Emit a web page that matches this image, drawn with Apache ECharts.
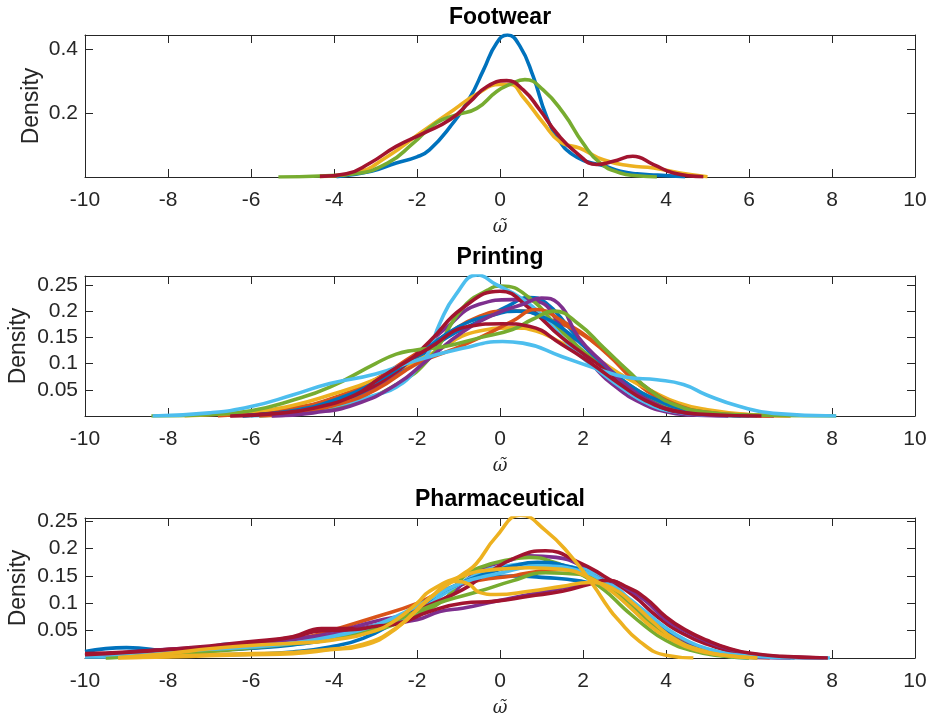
<!DOCTYPE html>
<html>
<head>
<meta charset="utf-8">
<script src="https://cdn.jsdelivr.net/npm/echarts@6/dist/echarts.min.js"></script>
<style>
html,body{margin:0;padding:0;background:#fff;}
#chart{width:931px;height:717px;}
</style>
</head>
<body>
<div id="chart"></div>
<script>
// ---------- data (x = omega-tilde, y = density) ----------
const panelTitles = ['Footwear', 'Printing', 'Pharmaceutical'];
const xTickMin = -10, xTickMax = 10, xTickStep = 2;
const yMaxes = [0.445, 0.267, 0.256];
const yTickSteps = [0.2, 0.05, 0.05];

// Footwear
const fwBlue = [[-3.94,0.001],[-3.1,0.018],[-2.5,0.044],[-2.0,0.063],[-1.7,0.085],[-1.2,0.158],[-0.72,0.25],[-0.4,0.335],[-0.08,0.42],[0.18,0.445],[0.48,0.41],[0.8,0.315],[1.12,0.19],[1.45,0.11],[1.75,0.07],[2.1,0.048],[2.5,0.035],[2.9,0.018],[3.3,0.01],[3.8,0.006],[4.46,0.001]];
const fwYellow = [[-4.34,0.002],[-3.5,0.0125],[-2.7,0.065],[-1.93,0.137],[-1.12,0.21],[-0.56,0.26],[0,0.29],[0.24,0.29],[0.56,0.25],[1.04,0.17],[1.45,0.11],[1.93,0.09],[2.49,0.054],[3.13,0.035],[3.7,0.028],[4.34,0.0125],[5.0,0.001]];
const fwGreen = [[-5.34,0.0],[-4.34,0.003],[-3.5,0.01],[-2.7,0.044],[-2.09,0.106],[-1.53,0.17],[-1.04,0.195],[-0.56,0.215],[-0.08,0.268],[0.24,0.29],[0.6,0.305],[1.04,0.273],[1.53,0.2],[2.0,0.106],[2.41,0.044],[2.9,0.0125],[3.3,0.004],[3.78,0.0]];
const fwRed = [[-4.34,0.002],[-3.7,0.01],[-3.13,0.044],[-2.5,0.096],[-1.85,0.137],[-1.2,0.18],[-0.72,0.236],[-0.32,0.283],[0.16,0.302],[0.56,0.273],[0.96,0.21],[1.37,0.137],[1.85,0.075],[2.33,0.039],[2.73,0.049],[3.2,0.065],[3.7,0.039],[4.18,0.0125],[4.9,0.001]];

// Printing
const prBlue1 = [[-6.2,0.0],[-5,0.008],[-4,0.025],[-3,0.055],[-2.1,0.104],[-1.3,0.149],[-0.5,0.181],[0.2,0.21],[0.7,0.226],[1.1,0.216],[1.67,0.168],[2.3,0.11],[3,0.06],[3.6,0.03],[4.2,0.015],[5,0.005],[5.8,0.0]];
const prOrange1 = [[-6.8,0.0],[-6,0.006],[-5,0.015],[-4,0.035],[-3,0.07],[-2.1,0.115],[-1.3,0.155],[-0.5,0.19],[0.2,0.2],[0.55,0.2],[1.1,0.187],[1.9,0.16],[2.6,0.117],[3.2,0.07],[3.8,0.035],[4.5,0.015],[5.5,0.004],[7,0.0]];
const prYellow1 = [[-7.6,0.0],[-6,0.008],[-5,0.02],[-4.1,0.04],[-3,0.07],[-1.7,0.117],[-0.5,0.162],[0.3,0.168],[0.87,0.162],[1.5,0.139],[2.3,0.11],[3,0.075],[3.6,0.05],[4.3,0.025],[5,0.012],[6,0.003],[7,0.0]];
const prPurple1 = [[-5.5,0.0],[-4.5,0.008],[-3.5,0.03],[-2.8,0.065],[-2.1,0.11],[-1.3,0.168],[-0.5,0.213],[0.3,0.222],[0.87,0.219],[1.5,0.168],[2.2,0.1],[2.8,0.055],[3.4,0.025],[4,0.008],[4.6,0.002],[5.5,0.0]];
const prGreen1 = [[-5.8,0.0],[-4.5,0.008],[-3.5,0.025],[-2.5,0.06],[-1.7,0.11],[-0.9,0.206],[-0.3,0.24],[0.02,0.248],[0.7,0.226],[1.5,0.16],[2.3,0.104],[2.6,0.088],[3.2,0.055],[3.8,0.028],[4.5,0.01],[5.3,0.002],[6,0.0]];
const prLightBlue1 = [[-6,0.0],[-5,0.005],[-4.1,0.017],[-3,0.04],[-2.5,0.055],[-2,0.09],[-1.7,0.125],[-1.46,0.175],[-1.06,0.232],[-0.54,0.269],[-0.1,0.251],[0.5,0.225],[1.1,0.185],[1.77,0.127],[2.4,0.085],[3,0.05],[3.6,0.022],[4.2,0.008],[5,0.002],[5.8,0.0]];
const prRed1 = [[-6.5,0.0],[-5.5,0.005],[-4.5,0.015],[-3.5,0.04],[-2.5,0.085],[-1.7,0.142],[-0.9,0.206],[0,0.238],[0.7,0.206],[1.5,0.149],[2.5,0.091],[3.2,0.05],[3.8,0.02],[4.5,0.006],[5.5,0.002],[6.6,0.0]];
const prBlue2 = [[-6.2,0.0],[-5,0.01],[-4,0.03],[-3,0.065],[-2,0.115],[-1,0.17],[-0.1,0.194],[0.4,0.2],[1,0.19],[1.7,0.155],[2.4,0.105],[3.1,0.06],[3.8,0.03],[4.5,0.012],[5.3,0.003],[6.2,0.0]];
const prOrange2 = [[-5.8,0.0],[-5,0.005],[-4,0.02],[-3,0.05],[-2,0.1],[-1.2,0.125],[-0.5,0.149],[0.3,0.181],[0.87,0.203],[1.5,0.181],[2.3,0.139],[3,0.09],[3.6,0.05],[4.3,0.02],[5,0.007],[6,0.001],[6.5,0.0]];
const prPurple2 = [[-5.5,0.0],[-4.5,0.006],[-3.5,0.022],[-2.5,0.06],[-1.7,0.11],[-0.9,0.16],[-0.1,0.195],[0.55,0.213],[1.0,0.225],[1.4,0.215],[1.9,0.149],[2.5,0.1],[3.1,0.055],[3.7,0.025],[4.3,0.008],[5,0.002],[5.5,0.0]];
const prGreen2 = [[-8.4,0.0],[-7,0.003],[-6,0.01],[-5,0.03],[-4.1,0.055],[-3,0.1],[-2.5,0.118],[-2.1,0.125],[-1.3,0.133],[-0.5,0.149],[0.3,0.165],[0.8,0.185],[1.3,0.2],[1.9,0.175],[2.5,0.13],[3.1,0.085],[3.6,0.05],[4.2,0.022],[5,0.007],[6,0.002],[8.1,0.0]];
const prLightBlue2 = [[-8.37,0.0],[-7,0.006],[-6,0.018],[-5,0.04],[-4.1,0.062],[-3,0.08],[-2.1,0.104],[-0.9,0.129],[0.06,0.142],[0.55,0.139],[1.5,0.113],[2.3,0.091],[3.05,0.074],[3.78,0.069],[4.42,0.06],[4.98,0.04],[5.78,0.018],[6.59,0.005],[8.1,0.0]];
const prRed2 = [[-6.5,0.0],[-5.5,0.004],[-4.5,0.015],[-3.5,0.04],[-2.9,0.072],[-1.7,0.13],[-0.74,0.171],[0.06,0.176],[0.7,0.171],[1.5,0.136],[2.2,0.1],[2.9,0.06],[3.5,0.03],[4.2,0.01],[5,0.003],[6.3,0.0]];

// Pharmaceutical
const phBlue1 = [[-10,0.012],[-9,0.019],[-8,0.012],[-7,0.006],[-6,0.007],[-5,0.011],[-4.1,0.02],[-3.3,0.036],[-2.5,0.067],[-1.7,0.104],[-0.9,0.135],[-0.5,0.147],[0.3,0.15],[1.1,0.147],[1.9,0.141],[2.5,0.13],[3,0.11],[3.5,0.08],[4,0.05],[4.5,0.028],[5,0.014],[5.6,0.006],[6.3,0.002],[7.1,0.0]];
const phOrange = [[-10,0.006],[-9,0.008],[-8,0.01],[-7,0.014],[-6,0.02],[-5,0.032],[-4.3,0.045],[-3,0.075],[-2,0.1],[-1.3,0.125],[-0.5,0.142],[0.3,0.15],[0.7,0.156],[1.5,0.162],[2.1,0.155],[2.6,0.135],[3.1,0.1],[3.6,0.065],[4.1,0.04],[4.7,0.02],[5.3,0.008],[6,0.002],[6.5,0.0]];
const phPurple1 = [[-10,0.005],[-9,0.01],[-8,0.016],[-7,0.02],[-6,0.028],[-5,0.036],[-4.3,0.042],[-3,0.067],[-2,0.085],[-1.3,0.11],[-0.5,0.16],[0.3,0.18],[0.7,0.187],[1.35,0.184],[1.99,0.168],[2.5,0.145],[3,0.11],[3.5,0.075],[4,0.045],[4.6,0.022],[5.3,0.008],[6,0.002],[7,0.0]];
const phGreen1 = [[-9.5,0.0],[-8,0.006],[-7,0.012],[-6,0.018],[-5,0.025],[-4,0.035],[-3,0.05],[-2,0.08],[-1.3,0.11],[-0.9,0.147],[-0.5,0.165],[0.3,0.181],[0.7,0.184],[1.3,0.175],[1.9,0.155],[2.5,0.125],[3,0.09],[3.5,0.058],[4,0.032],[4.6,0.014],[5.3,0.004],[6,0.0]];
const phLightBlue1 = [[-10,0.002],[-9,0.003],[-8,0.008],[-7,0.02],[-6.5,0.026],[-6,0.025],[-5,0.03],[-4.3,0.039],[-3,0.06],[-2,0.085],[-1.3,0.12],[-0.5,0.155],[-0.1,0.165],[0.7,0.172],[1.5,0.168],[2.3,0.156],[2.8,0.13],[3.2,0.1],[3.6,0.07],[4,0.045],[4.5,0.022],[5,0.01],[5.6,0.002],[6,0.0]];
const phRed1 = [[-10,0.008],[-9,0.011],[-8,0.016],[-7,0.022],[-6,0.03],[-5,0.039],[-4.3,0.054],[-3.5,0.054],[-2.5,0.073],[-1.7,0.097],[-0.9,0.125],[-0.4,0.15],[0.39,0.184],[1.1,0.196],[1.9,0.175],[2.5,0.15],[3.2,0.115],[3.8,0.075],[4.4,0.045],[5,0.025],[5.8,0.008],[6.8,0.002],[7.9,0.0]];
const phBlue2 = [[-10,0.004],[-9,0.007],[-8,0.01],[-7,0.014],[-6,0.018],[-5,0.024],[-4,0.035],[-3,0.055],[-2,0.095],[-1.3,0.125],[-0.5,0.15],[0.3,0.168],[0.9,0.175],[1.5,0.17],[2.1,0.155],[2.6,0.13],[3.1,0.1],[3.6,0.068],[4.1,0.04],[4.7,0.018],[5.4,0.005],[6.2,0.0]];
const phPurple2 = [[-10,0.004],[-9,0.009],[-8,0.015],[-7,0.02],[-6,0.026],[-5,0.034],[-4.3,0.04],[-3,0.06],[-2,0.07],[-1.45,0.085],[-0.9,0.091],[-0.1,0.104],[0.7,0.116],[1.5,0.128],[2.3,0.138],[2.73,0.14],[3.0,0.13],[3.5,0.105],[4,0.07],[4.5,0.048],[5,0.03],[5.5,0.017],[6,0.008],[6.8,0.002],[7.8,0.0]];
const phGreen2 = [[-9.5,0.0],[-8,0.007],[-7,0.013],[-6,0.019],[-5,0.026],[-4,0.036],[-3,0.055],[-2,0.085],[-1.3,0.105],[-0.5,0.122],[0.3,0.141],[1.1,0.156],[1.9,0.153],[2.5,0.135],[3,0.105],[3.5,0.07],[4,0.04],[4.6,0.018],[5.3,0.005],[6,0.0]];
const phLightBlue2 = [[-10,0.003],[-9,0.008],[-8,0.012],[-7,0.016],[-6,0.02],[-5,0.027],[-4,0.04],[-3,0.06],[-2,0.095],[-1,0.135],[0,0.155],[1,0.168],[2,0.158],[2.5,0.14],[3,0.115],[3.5,0.085],[4,0.055],[4.5,0.032],[5,0.017],[5.8,0.005],[6.8,0.001],[7.95,0.0]];
const phRed2 = [[-10,0.006],[-9,0.01],[-8,0.015],[-7,0.02],[-6,0.028],[-5,0.038],[-4.3,0.05],[-3.5,0.052],[-3,0.058],[-2.5,0.062],[-1.7,0.085],[-0.9,0.1],[-0.1,0.104],[0.7,0.113],[1.5,0.122],[2.15,0.135],[2.57,0.142],[3.0,0.132],[3.5,0.11],[4,0.075],[4.5,0.05],[5,0.032],[5.5,0.018],[6,0.009],[6.8,0.003],[7.9,0.0]];
const phYellow1 = [[-9.2,0.0],[-8,0.003],[-7,0.006],[-6,0.008],[-5,0.01],[-4.1,0.016],[-3.3,0.025],[-2.5,0.055],[-1.7,0.108],[-1.1,0.14],[-0.75,0.135],[-0.5,0.12],[-0.1,0.116],[0.7,0.122],[1.5,0.131],[2.15,0.138],[2.7,0.128],[3.2,0.1],[3.7,0.065],[4.2,0.035],[4.8,0.015],[5.4,0.005],[6.2,0.0]];
const phYellow2 = [[-9.2,0.001],[-8,0.008],[-7,0.017],[-6,0.023],[-5,0.027],[-4.1,0.032],[-3,0.05],[-2.5,0.07],[-2,0.1],[-1.7,0.122],[-0.9,0.15],[-0.1,0.162],[0.7,0.165],[1.5,0.162],[2.15,0.147],[2.63,0.125],[3.1,0.095],[3.6,0.06],[4.1,0.035],[4.7,0.015],[5.4,0.005],[6.2,0.0]];
const phYellow3 = [[-9.2,0.0],[-8,0.002],[-7,0.004],[-6,0.006],[-5,0.008],[-4.1,0.015],[-3.3,0.023],[-2.5,0.054],[-1.7,0.11],[-0.9,0.153],[-0.58,0.172],[-0.1,0.221],[0.5,0.261],[1.1,0.233],[1.67,0.19],[2.23,0.135],[2.63,0.09],[2.81,0.073],[3.37,0.03],[4.0,0.005],[4.66,0.0]];

// ---------- styling ----------
const COLORS = {blue:'#0072BD', orange:'#D95319', yellow:'#EDB120', purple:'#7E2F8E', green:'#77AC30', lightBlue:'#4DBEEE', darkRed:'#A2142F'};
const panels = [
  [['blue',fwBlue],['yellow',fwYellow],['green',fwGreen],['darkRed',fwRed]],
  [['blue',prBlue1],['orange',prOrange1],['yellow',prYellow1],['purple',prPurple1],['green',prGreen1],['lightBlue',prLightBlue1],['darkRed',prRed1],['blue',prBlue2],['orange',prOrange2],['purple',prPurple2],['green',prGreen2],['lightBlue',prLightBlue2],['darkRed',prRed2]],
  [['blue',phBlue1],['orange',phOrange],['purple',phPurple1],['green',phGreen1],['lightBlue',phLightBlue1],['darkRed',phRed1],['blue',phBlue2],['purple',phPurple2],['green',phGreen2],['lightBlue',phLightBlue2],['darkRed',phRed2],['yellow',phYellow1],['yellow',phYellow2],['yellow',phYellow3]]
];

const AX = '#262626';
const FONT = 'Liberation Sans';
const gridTops = [35, 276, 518];
const gridHeights = [142, 140, 140];
const titleTops = [6, 246, 488];
const densityGaps = [42, 55, 55];

const option = {
  animation: false,
  backgroundColor: '#fff',
  title: [], grid: [], xAxis: [], yAxis: [], series: []
};

panels.forEach((lines, i) => {
  option.title.push({
    text: panelTitles[i], left: 500, top: titleTops[i], textAlign: 'center', padding: 0,
    textStyle: {fontFamily: FONT, fontSize: 23, fontWeight: 'bold', color: '#000'}
  });
  option.grid.push({left: 85, width: 830, top: gridTops[i], height: gridHeights[i], containLabel: false, outerBoundsMode: 'none'});
  const baseX = {
    type: 'value', gridIndex: i, min: xTickMin, max: xTickMax, interval: xTickStep,
    splitLine: {show: false},
    axisLine: {show: true, onZero: false, lineStyle: {color: AX, width: 1}},
    axisTick: {show: true, inside: true, length: 8, lineStyle: {color: AX, width: 1}}
  };
  option.xAxis.push(Object.assign({}, baseX, {
    position: 'bottom',
    name: 'ω̃', nameLocation: 'middle', nameGap: 41, nameMoveOverlap: false,
    nameTextStyle: {fontFamily: 'DejaVu Serif', fontStyle: 'italic', fontSize: 18, color: AX},
    axisLabel: {show: true, margin: 13, fontFamily: FONT, fontSize: 21, color: AX}
  }));
  option.xAxis.push(Object.assign({}, baseX, {position: 'top', axisLabel: {show: false}}));
  const yStep = yTickSteps[i], yMax = yMaxes[i];
  const baseY = {
    type: 'value', gridIndex: i, min: 0, max: yMax, interval: yStep,
    splitLine: {show: false},
    axisLine: {show: true, onZero: false, lineStyle: {color: AX, width: 1}},
    axisTick: {show: true, inside: true, length: 8, lineStyle: {color: AX, width: 1}}
  };
  option.yAxis.push(Object.assign({}, baseY, {
    position: 'left',
    name: 'Density', nameLocation: 'middle', nameGap: densityGaps[i], nameRotate: 90,
    nameMoveOverlap: false,
    nameTextStyle: {fontFamily: FONT, fontSize: 23, color: AX},
    axisLabel: {
      show: true, margin: 7, fontFamily: FONT, fontSize: 21, color: AX,
      formatter: function (v) {
        const k = v / yStep;
        if (v <= 0 || Math.abs(k - Math.round(k)) > 1e-6) return '';
        return String(Math.round(v * 100) / 100);
      }
    }
  }));
  option.yAxis.push(Object.assign({}, baseY, {position: 'right', axisLabel: {show: false}}));
  lines.forEach(([c, data]) => {
    option.series.push({
      type: 'line', xAxisIndex: 2 * i, yAxisIndex: 2 * i, data: data,
      smooth: 0.5, symbol: 'none', silent: true,
      lineStyle: {color: COLORS[c], width: 3.6, cap: 'butt', join: 'round'},
      emphasis: {disabled: true}
    });
  });
});

const chart = echarts.init(document.getElementById('chart'), null, {renderer: 'canvas'});
chart.setOption(option);
</script>
</body>
</html>
